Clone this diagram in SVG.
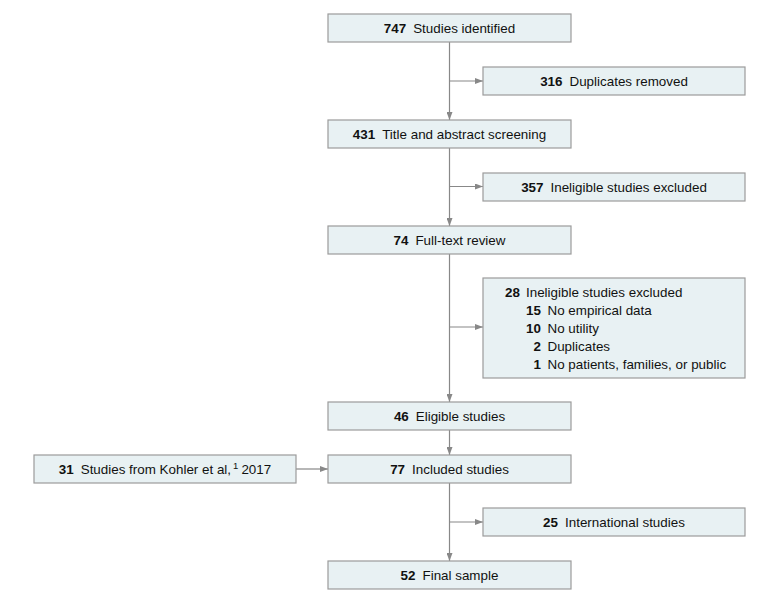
<svg xmlns="http://www.w3.org/2000/svg" width="780" height="602" viewBox="0 0 780 602">
<defs>
<style>
.box{fill:#e8f1f3;stroke:#9b9b9b;stroke-width:1.2}
.t{font-family:"Liberation Sans",Arial,sans-serif;font-size:13.4px;fill:#111}
.c{text-anchor:middle}
.b{font-weight:bold}
.e{text-anchor:end}
.ln{stroke:#888;stroke-width:1.2;fill:none}
</style>
<marker id="ah" markerWidth="8" markerHeight="6" refX="8" refY="3" orient="auto" markerUnits="userSpaceOnUse">
<path d="M0,0 L8,3 L0,6 z" fill="#888"/>
</marker>
</defs>
<rect width="780" height="602" fill="#fff"/>
<g id="connectors">
<line class="ln" x1="449.5" y1="42" x2="449.5" y2="120" marker-end="url(#ah)"/>
<line class="ln" x1="449.5" y1="81" x2="483" y2="81" marker-end="url(#ah)"/>
<line class="ln" x1="449.5" y1="148" x2="449.5" y2="226" marker-end="url(#ah)"/>
<line class="ln" x1="449.5" y1="186.5" x2="483" y2="186.5" marker-end="url(#ah)"/>
<line class="ln" x1="449.5" y1="254" x2="449.5" y2="402" marker-end="url(#ah)"/>
<line class="ln" x1="449.5" y1="327" x2="483" y2="327" marker-end="url(#ah)"/>
<line class="ln" x1="449.5" y1="430" x2="449.5" y2="455" marker-end="url(#ah)"/>
<line class="ln" x1="296" y1="469" x2="328" y2="469" marker-end="url(#ah)"/>
<line class="ln" x1="449.5" y1="483" x2="449.5" y2="561" marker-end="url(#ah)"/>
<line class="ln" x1="449.5" y1="522" x2="483" y2="522" marker-end="url(#ah)"/>
</g>
<g id="n747">
<rect class="box" x="328" y="14" width="243" height="28"/>
<text class="t c" x="449.5" y="32.8"><tspan class="b">747</tspan><tspan dx="7">Studies identified</tspan></text>
</g>
<g id="n316">
<rect class="box" x="483" y="67" width="262" height="28"/>
<text class="t c" x="614" y="85.8"><tspan class="b">316</tspan><tspan dx="7">Duplicates removed</tspan></text>
</g>
<g id="n431">
<rect class="box" x="328" y="120" width="243" height="28"/>
<text class="t c" x="449.5" y="138.8"><tspan class="b">431</tspan><tspan dx="7">Title and abstract screening</tspan></text>
</g>
<g id="n357">
<rect class="box" x="483" y="173" width="262" height="28"/>
<text class="t c" x="614" y="191.8"><tspan class="b">357</tspan><tspan dx="7">Ineligible studies excluded</tspan></text>
</g>
<g id="n74">
<rect class="box" x="328" y="226" width="243" height="28"/>
<text class="t c" x="449.5" y="244.8"><tspan class="b">74</tspan><tspan dx="7">Full-text review</tspan></text>
</g>
<g id="n28">
<rect class="box" x="483" y="278" width="262" height="100"/>
<text class="t b e" x="520" y="297">28</text>
<text class="t" x="526" y="297">Ineligible studies excluded</text>
<text class="t b e" x="541" y="315">15</text>
<text class="t" x="547.5" y="315">No empirical data</text>
<text class="t b e" x="541" y="333">10</text>
<text class="t" x="547.5" y="333">No utility</text>
<text class="t b e" x="541" y="351">2</text>
<text class="t" x="547.5" y="351">Duplicates</text>
<text class="t b e" x="541" y="369">1</text>
<text class="t" x="547.5" y="369">No patients, families, or public</text>
</g>
<g id="n46">
<rect class="box" x="328" y="402" width="243" height="28"/>
<text class="t c" x="449.5" y="420.8"><tspan class="b">46</tspan><tspan dx="7">Eligible studies</tspan></text>
</g>
<g id="n31">
<rect class="box" x="34" y="455" width="262" height="28"/>
<text class="t c" x="165" y="473.8"><tspan class="b">31</tspan><tspan dx="7">Studies from Kohler et al,</tspan><tspan font-size="9.5" dy="-5" dx="2">1</tspan><tspan dy="5" dx="3">2017</tspan></text>
</g>
<g id="n77">
<rect class="box" x="328" y="455" width="243" height="28"/>
<text class="t c" x="449.5" y="473.8"><tspan class="b">77</tspan><tspan dx="7">Included studies</tspan></text>
</g>
<g id="n25">
<rect class="box" x="483" y="508" width="262" height="28"/>
<text class="t c" x="614" y="526.8"><tspan class="b">25</tspan><tspan dx="7">International studies</tspan></text>
</g>
<g id="n52">
<rect class="box" x="328" y="561" width="243" height="28"/>
<text class="t c" x="449.5" y="579.8"><tspan class="b">52</tspan><tspan dx="7">Final sample</tspan></text>
</g>
</svg>
